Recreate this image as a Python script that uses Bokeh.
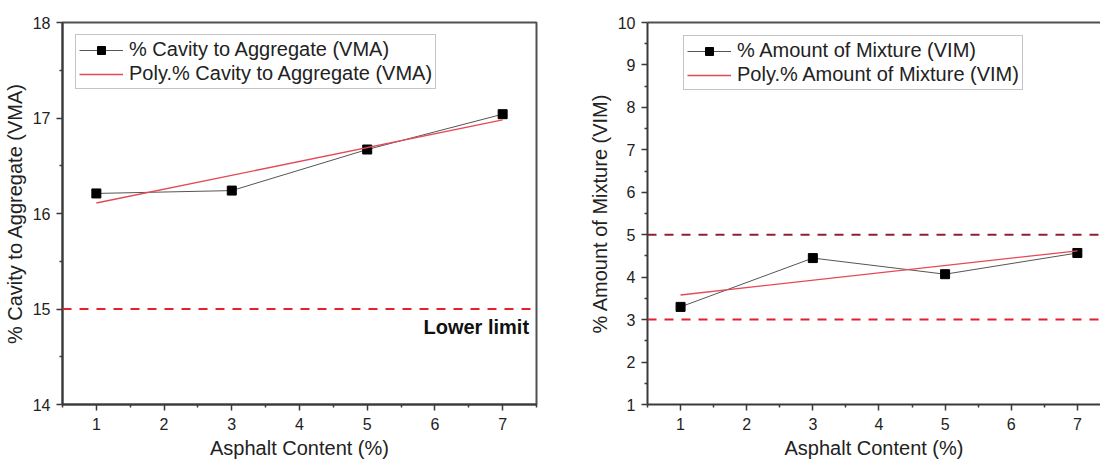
from bokeh.plotting import figure
from bokeh.models import Range1d, FixedTicker, Span, Label, LinearAxis
from bokeh.layouts import row
from bokeh.embed import file_html
from bokeh.resources import INLINE

# ---------------- data ----------------
asphalt_content = [1, 3, 5, 7]
vma_values = [16.21, 16.24, 16.67, 17.04]
vma_fit_x = [1, 7]
vma_fit_values = [16.11, 16.98]
vim_values = [3.30, 4.45, 4.07, 4.57]
vim_fit_x = [1, 7]
vim_fit_values = [3.58, 4.62]

vma_lower_limit = 15
vim_lower_limit = 3
vim_upper_limit = 5

x_ticks = [1, 2, 3, 4, 5, 6, 7]
x_minor_ticks = [0.5, 1.5, 2.5, 3.5, 4.5, 5.5, 6.5, 7.5]
vma_ticks = [14, 15, 16, 17, 18]
vma_minor_ticks = [14.5, 15.5, 16.5, 17.5]
vim_ticks = [1, 2, 3, 4, 5, 6, 7, 8, 9, 10]
vim_minor_ticks = [1.5, 2.5, 3.5, 4.5, 5.5, 6.5, 7.5, 8.5, 9.5]

x_label = "Asphalt Content (%)"
vma_label = "% Cavity to Aggregate (VMA)"
vim_label = "% Amount of Mixture (VIM)"
vma_fit_label = "Poly.% Cavity to Aggregate (VMA)"
vim_fit_label = "Poly.% Amount of Mixture (VIM)"
lower_limit_text = "Lower limit"

FONT = "Liberation Sans"
AXIS_COLOR = "#3a3a3a"
TEXT_COLOR = "#222222"
FIT_COLOR = "#e24a55"


def style_axes(p, yticks, yminor):
    p.xgrid.visible = False
    p.ygrid.visible = False
    p.xaxis.ticker = FixedTicker(ticks=x_ticks, minor_ticks=x_minor_ticks)
    p.yaxis.ticker = FixedTicker(ticks=yticks, minor_ticks=yminor)
    for ax in list(p.xaxis) + list(p.yaxis):
        ax.axis_line_color = AXIS_COLOR
        ax.axis_line_width = 2
        ax.major_tick_line_color = AXIS_COLOR
        ax.major_tick_line_width = 1.5
        ax.minor_tick_line_color = AXIS_COLOR
        ax.minor_tick_line_width = 1.5
        ax.major_tick_in = 0
        ax.major_tick_out = 6
        ax.minor_tick_in = 0
        ax.minor_tick_out = 3
        ax.major_label_text_font = FONT
        ax.major_label_text_font_size = "16px"
        ax.major_label_text_color = TEXT_COLOR
        ax.axis_label_text_font = FONT
        ax.axis_label_text_font_size = "20px"
        ax.axis_label_text_font_style = "normal"
        ax.axis_label_text_color = TEXT_COLOR
    for ax in p.xaxis:
        ax.major_label_standoff = 7
        ax.axis_label_standoff = 4
    for ax in p.yaxis:
        ax.major_label_standoff = 6
        ax.axis_label_standoff = 4


def style_legend(p, loc):
    lg = p.legend[0]
    lg.location = loc
    lg.label_text_font = FONT
    lg.label_text_font_size = "20px"
    lg.label_text_color = TEXT_COLOR
    lg.glyph_width = 44
    lg.glyph_height = 20
    lg.label_standoff = 6
    lg.padding = 3
    lg.spacing = 1
    lg.margin = 0
    lg.border_line_color = "#8a8a8a"
    lg.border_line_width = 1
    lg.background_fill_color = "white"
    lg.background_fill_alpha = 1.0


# ---------------- left chart ----------------
p1 = figure(width=585, height=462, x_range=Range1d(0.5, 7.5), y_range=Range1d(14, 18),
            output_backend="svg", toolbar_location=None,
            min_border_left=62, min_border_right=49, min_border_top=22, min_border_bottom=56,
            background_fill_color="white", border_fill_color="white")
p1.outline_line_color = "#505050"
p1.outline_line_width = 2
style_axes(p1, vma_ticks, vma_minor_ticks)
p1.xaxis.axis_label = x_label
p1.yaxis.axis_label = vma_label

p1.add_layout(Span(location=vma_lower_limit, dimension="width", line_color="#e8202a",
                   line_width=2, line_dash="9 8"))
p1.line(asphalt_content, vma_values, line_color="#555555", line_width=1, legend_label=vma_label)
p1.scatter(asphalt_content, vma_values, marker="square", size=9, fill_color="black",
           line_color="black", legend_label=vma_label)
p1.line(vma_fit_x, vma_fit_values, line_color=FIT_COLOR, line_width=1.3, legend_label=vma_fit_label)

p1.add_layout(Label(x=7.39, y=14.81, text=lower_limit_text, text_font=FONT, text_font_size="20px",
                    text_font_style="bold", text_color="#111111", text_align="right",
                    text_baseline="middle"))
style_legend(p1, (13, 315))

# ---------------- right chart ----------------
p2 = figure(width=515, height=462, x_range=Range1d(0.5, 7.35), y_range=Range1d(1, 10),
            output_backend="svg", toolbar_location=None,
            min_border_left=57, min_border_right=0, min_border_top=22, min_border_bottom=58,
            background_fill_color="white", border_fill_color="white")
p2.outline_line_color = None
style_axes(p2, vim_ticks, vim_minor_ticks)
p2.xaxis.axis_label = x_label
p2.yaxis.axis_label = vim_label

top_axis = LinearAxis(axis_line_color="#505050", axis_line_width=2,
                      major_tick_line_color=None, minor_tick_line_color=None,
                      major_tick_out=0, minor_tick_out=0, major_label_standoff=0,
                      major_label_text_font_size="0px")
p2.add_layout(top_axis, "above")

p2.add_layout(Span(location=vim_upper_limit, dimension="width", line_color="#8b2232",
                   line_width=2, line_dash="9 8"))
p2.add_layout(Span(location=vim_lower_limit, dimension="width", line_color="#e02030",
                   line_width=2, line_dash="9 8"))
p2.line(asphalt_content, vim_values, line_color="#555555", line_width=1, legend_label=vim_label)
p2.scatter(asphalt_content, vim_values, marker="square", size=9, fill_color="black",
           line_color="black", legend_label=vim_label)
p2.line(vim_fit_x, vim_fit_values, line_color=FIT_COLOR, line_width=1.3, legend_label=vim_fit_label)
style_legend(p2, (36, 314))

layout = row(p1, p2)
open("out.html", "w").write(file_html(layout, INLINE))
